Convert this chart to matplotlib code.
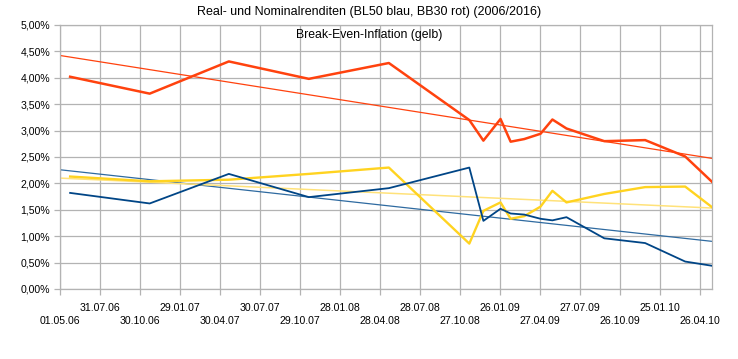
"""
plot.py

Real- und Nominalrenditen mit Break-Even-Inflation, 2006 bis 2010.
"""

import datetime as dt

import matplotlib
matplotlib.use("Agg")
import matplotlib.pyplot as plt
import matplotlib.dates as mdates
import numpy as np

# --- Daten ---
dates = [
    "2006-05-24", "2006-11-21", "2007-05-20", "2007-11-18", "2008-05-18",
    "2008-11-17", "2008-12-19", "2009-01-27", "2009-02-19", "2009-03-22",
    "2009-04-28", "2009-05-25", "2009-06-26", "2009-09-20", "2009-12-22",
    "2010-03-23", "2010-05-23",
]
nominal_bb30 = [4.02, 3.70, 4.31, 3.98, 4.28, 3.20, 2.81, 3.22, 2.79, 2.84,
                2.94, 3.21, 3.04, 2.80, 2.82, 2.51, 2.03]
real_bl50 = [1.82, 1.62, 2.18, 1.74, 1.91, 2.30, 1.29, 1.52, 1.43, 1.41,
             1.33, 1.30, 1.36, 0.96, 0.87, 0.52, 0.44]
breakeven = [2.13, 2.04, 2.07, 2.18, 2.30, 0.86, 1.48, 1.64, 1.33, 1.38,
             1.56, 1.86, 1.64, 1.80, 1.93, 1.94, 1.55]

tick_start = dt.date(2006, 5, 1)
tick_step_days = 91
n_ticks = 17
x_end = dt.date(2010, 5, 23)

RED = "#ff420e"
BLUE = "#004586"
YELLOW = "#ffd320"

plt.rcParams["font.family"] = ["Liberation Sans", "DejaVu Sans"]

x = np.array([mdates.datestr2num(d) for d in dates])
xlim = (mdates.date2num(tick_start), mdates.date2num(x_end))

fig = plt.figure(figsize=(7.38, 3.59), dpi=100)
ax = fig.add_axes([60 / 738, 1 - 289 / 359, 652 / 738, 264 / 359])


def trend(values, color, lw=0.9):
    # lineare Trendlinie über die ganze Achse
    k, d = np.polyfit(x, values, 1)
    xs = np.array(xlim)
    ax.plot(xs, k * xs + d, color=color, lw=lw, zorder=2)


trend(nominal_bb30, RED)
trend(real_bl50, "#2e6aa0")
trend(breakeven, "#ffe27a", lw=1.1)

ax.plot(x, nominal_bb30, color=RED, lw=1.8, zorder=3)
ax.plot(x, breakeven, color=YELLOW, lw=1.7, zorder=3)
ax.plot(x, real_bl50, color=BLUE, lw=1.3, zorder=3)

ax.set_xlim(*xlim)
ax.set_ylim(0, 5)
yt = np.arange(0, 5.01, 0.5)
ax.set_yticks(yt)
ax.set_yticklabels([f"{v:.2f}%".replace(".", ",") for v in yt])

tick_dates = [tick_start + dt.timedelta(days=tick_step_days * i) for i in range(n_ticks)]
ax.set_xticks([mdates.date2num(d) for d in tick_dates])
labels = []
for i, d in enumerate(tick_dates):
    s = d.strftime("%d.%m.%y")
    labels.append("\n" + s if i % 2 == 0 else s)
ax.set_xticklabels(labels, linespacing=1.35)

ax.grid(True, color="#b3b3b3", lw=0.9)
ax.set_axisbelow(True)
for sp in ax.spines.values():
    sp.set_color("#b3b3b3")
    sp.set_linewidth(0.9)
ax.tick_params(axis="both", colors="#b3b3b3", labelcolor="black",
               labelsize=7.6, length=4, width=0.9, pad=3)
ax.tick_params(axis="x", pad=6)

fig.text(0.5, 1 - 12 / 359, "Real- und Nominalrenditen (BL50 blau, BB30 rot) (2006/2016)",
         ha="center", va="center", fontsize=9.0)
fig.text(0.5, 1 - 35 / 359, "Break-Even-Inflation (gelb)",
         ha="center", va="center", fontsize=8.8)

fig.savefig("out.png", dpi=100)
